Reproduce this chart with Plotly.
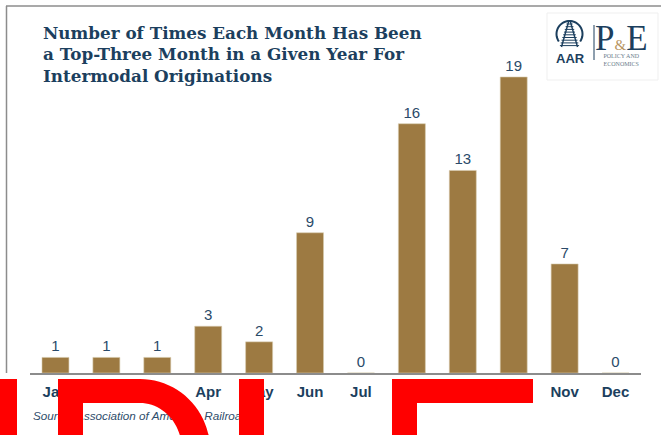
import math
import plotly.graph_objects as go

# Data
months = ["Jan", "Feb", "Mar", "Apr", "May", "Jun",
          "Jul", "Aug", "Sep", "Oct", "Nov", "Dec"]
top_three_counts = [1, 1, 1, 3, 2, 9, 0, 16, 13, 19, 7, 0]
title_lines = ["Number of Times Each Month Has Been",
               "a Top-Three Month in a Given Year For",
               "Intermodal Originations"]
source_note = "Source: Association of American Railroads"

W, H = 661, 435
NAVY = "#1c3f5e"
BAR = "#9d7a42"
GRID_GREY = "#8c8c8c"


def px(x):
    return x / W


def py(y):
    return 1 - y / H


def path_from(points):
    pts = [f"{px(x):.5f},{py(y):.5f}" for x, y in points]
    return "M" + " L".join(pts) + " Z"


positions = list(range(len(months)))

fig = go.Figure()

fig.add_trace(go.Bar(
    x=positions,
    y=top_three_counts,
    marker=dict(color=BAR, line=dict(color="#d9ccb0", width=0.6)),
    width=0.53,
    text=[str(v) for v in top_three_counts],
    textposition="outside",
    textfont=dict(family="Liberation Sans, Arial, sans-serif", size=15, color="#2a4a69"),
    cliponaxis=False,
    hoverinfo="skip",
))

# source line under the month labels, on a full-page pixel grid (x2/y2)
fig.add_trace(go.Scatter(
    x=[33], y=[417],
    xaxis="x2", yaxis="y2",
    mode="text",
    text=[f"<i>{source_note}</i>"],
    textposition="middle right",
    textfont=dict(family="Liberation Sans, Arial, sans-serif", size=11.7, color="#2f4d6b"),
    cliponaxis=False,
    hoverinfo="skip",
    showlegend=False,
))

# plot area in pixels: x 30..641, baseline y=373, 20 units tall
x0p, x1p = 30, 641
base_y = 373
unit = 15.58
ymax = 20
top_y = base_y - ymax * unit

fig.update_layout(
    width=W, height=H,
    margin=dict(l=0, r=0, t=0, b=0),
    paper_bgcolor="white",
    plot_bgcolor="rgba(0,0,0,0)",
    showlegend=False,
    xaxis=dict(
        domain=[px(x0p), px(x1p)],
        range=[-0.5, 11.5],
        tickmode="array",
        tickvals=positions,
        ticktext=[f"<b>{m}</b>" for m in months],
        showline=True, linecolor=GRID_GREY, linewidth=1.5,
        ticks="", showgrid=False, zeroline=False,
        ticklabelstandoff=4,
        tickfont=dict(family="Liberation Sans, Arial, sans-serif", size=15, color=NAVY),
        automargin=False,
    ),
    yaxis=dict(
        domain=[py(base_y), py(top_y)],
        range=[0, ymax],
        visible=False,
        showgrid=False, zeroline=False,
        automargin=False,
    ),
    xaxis2=dict(domain=[0, 1], range=[0, W], anchor="y2", visible=False,
                showgrid=False, zeroline=False, automargin=False, fixedrange=True),
    yaxis2=dict(domain=[0, 1], range=[H, 0], anchor="x2", visible=False,
                showgrid=False, zeroline=False, automargin=False, fixedrange=True),
    bargap=0.47,
)

shapes = []
# frame lines (top and left)
shapes.append(dict(type="line", xref="paper", yref="paper",
                   x0=px(6), x1=px(661), y0=py(6), y1=py(6),
                   line=dict(color=GRID_GREY, width=1.5), layer="below"))
shapes.append(dict(type="line", xref="paper", yref="paper",
                   x0=px(6.5), x1=px(6.5), y0=py(6), y1=py(373),
                   line=dict(color=GRID_GREY, width=1.5), layer="below"))

# logo box
shapes.append(dict(type="rect", xref="paper", yref="paper",
                   x0=px(547), x1=px(658), y0=py(80), y1=py(13),
                   line=dict(color="#efefef", width=1), fillcolor="white", layer="below"))

# logo emblem: open arch with converging rails
cx, cy, r = 569.5, 34, 13
arc = []
for i in range(0, 41):
    a = math.radians(-125 + i * (250 / 40))
    arc.append((cx + r * math.sin(a), cy - r * math.cos(a)))
arc_path = "M" + " L".join(f"{px(x):.5f},{py(y):.5f}" for x, y in arc)
shapes.append(dict(type="path", xref="paper", yref="paper", path=arc_path,
                   line=dict(color=NAVY, width=2)))
shapes.append(dict(type="line", xref="paper", yref="paper",
                   x0=px(561.5), y0=py(47), x1=px(568.8), y1=py(21),
                   line=dict(color=NAVY, width=1.4)))
shapes.append(dict(type="line", xref="paper", yref="paper",
                   x0=px(577.5), y0=py(47), x1=px(570.2), y1=py(21),
                   line=dict(color=NAVY, width=1.4)))
for k in range(9):
    yy = 24 + k * 2.7
    half = 1.0 + (yy - 22) * 0.3
    shapes.append(dict(type="line", xref="paper", yref="paper",
                       x0=px(569.5 - half - 1.5), x1=px(569.5 + half + 1.5),
                       y0=py(yy), y1=py(yy),
                       line=dict(color=NAVY, width=1)))
# divider between the two logo parts
shapes.append(dict(type="line", xref="paper", yref="paper",
                   x0=px(594), x1=px(594), y0=py(25), y1=py(60),
                   line=dict(color=NAVY, width=1)))

# red overlay glyphs along the bottom edge
red = dict(color="#ff0000", width=0)
shapes.append(dict(type="path", xref="paper", yref="paper", layer="above",
                   path=path_from([(0, 379), (17, 379), (17, 436), (0, 436)]),
                   fillcolor="#ff0000", line=red))
angles = [math.radians(90 - i * 4) for i in range(0, 20)]
outer = [(140 + 70 * math.cos(t), 450 - 71 * math.sin(t)) for t in angles]
inner = [(140 + 42 * math.cos(t), 450 - 47 * math.sin(t)) for t in angles]
outer.append((209, 436))
inner.append((181, 436))
bowl = [(58, 436), (58, 379)] + outer + list(reversed(inner)) + [(83, 403), (83, 436)]
shapes.append(dict(type="path", xref="paper", yref="paper", layer="above",
                   path=path_from(bowl), fillcolor="#ff0000", line=red))
shapes.append(dict(type="path", xref="paper", yref="paper", layer="above",
                   path=path_from([(239, 379), (264, 379), (264, 436), (239, 436)]),
                   fillcolor="#ff0000", line=red))
shapes.append(dict(type="path", xref="paper", yref="paper", layer="above",
                   path=path_from([(392, 379), (533, 379), (533, 403), (417, 403),
                                   (417, 436), (392, 436)]),
                   fillcolor="#ff0000", line=red))
fig.update_layout(shapes=shapes)

annotations = []
for i, line in enumerate(title_lines):
    annotations.append(dict(
        xref="paper", yref="paper", x=px(41), y=py(33 + i * 21.5),
        xanchor="left", yanchor="middle", showarrow=False,
        text=f"<b>{line}</b>",
        font=dict(family="DejaVu Serif, Georgia, serif", size=16.8, color=NAVY),
    ))
annotations += [
    dict(xref="paper", yref="paper", x=px(570.5), y=py(58.5), xanchor="center", yanchor="middle",
         showarrow=False, text="<b>AAR</b>",
         font=dict(family="Liberation Sans, Arial, sans-serif", size=13, color=NAVY)),
    # P&E wordmark with its two small caption lines
    dict(xref="paper", yref="paper", x=px(621), y=py(68.5), xanchor="center", yanchor="bottom",
         showarrow=False, align="center",
         text=("<span style='font-size:35px;color:#1c3f5e'>P"
               "<span style='font-size:15px;color:#b89460'>&amp;</span>E</span>"
               "<br>POLICY AND<br>ECONOMICS"),
         font=dict(family="Liberation Serif, Times New Roman, serif", size=6, color="#6b7c8c")),
]
fig.update_layout(annotations=annotations)

fig.write_html("out.html")
